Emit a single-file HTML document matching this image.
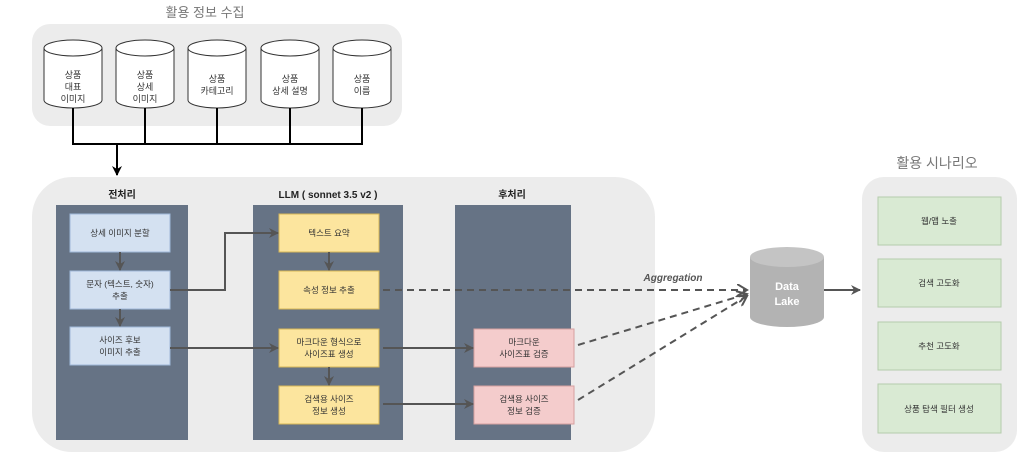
<!DOCTYPE html>
<html><head><meta charset="utf-8"><style>
body{margin:0;width:1024px;height:461px;background:#fff;overflow:hidden;font-family:"Liberation Sans","Noto Sans CJK KR",sans-serif}
</style></head><body>
<svg width="1024" height="461" viewBox="0 0 1024 461" xmlns="http://www.w3.org/2000/svg" font-family="Liberation Sans, Noto Sans CJK KR, sans-serif">
<defs>
<marker id="a" markerWidth="10" markerHeight="10" refX="9" refY="5" orient="auto" markerUnits="userSpaceOnUse"><path d="M0,0 L10,5 L0,10 L3,5 z" fill="#555"/></marker>
<marker id="b" markerWidth="10" markerHeight="10" refX="9" refY="5" orient="auto" markerUnits="userSpaceOnUse"><path d="M0,0 L10,5 L0,10 L3,5 z" fill="#000"/></marker>
<marker id="c" markerWidth="12" markerHeight="12" refX="10" refY="6" orient="auto" markerUnits="userSpaceOnUse"><path d="M0,0 L10,6 L0,12" fill="none" stroke="#555" stroke-width="2"/></marker>
</defs>
<text x="205" y="17" font-size="13" fill="#777" text-anchor="middle">활용 정보 수집</text>
<rect x="32" y="24" width="370" height="102" rx="18" fill="#ececec"/>
<g fill="#fff" stroke="#333" stroke-width="1">
<path d="M44,48 v52 a29,8 0 0 0 58,0 v-52"/><ellipse cx="73" cy="48" rx="29" ry="8"/>
<path d="M116,48 v52 a29,8 0 0 0 58,0 v-52"/><ellipse cx="145" cy="48" rx="29" ry="8"/>
<path d="M188,48 v52 a29,8 0 0 0 58,0 v-52"/><ellipse cx="217" cy="48" rx="29" ry="8"/>
<path d="M261,48 v52 a29,8 0 0 0 58,0 v-52"/><ellipse cx="290" cy="48" rx="29" ry="8"/>
<path d="M333,48 v52 a29,8 0 0 0 58,0 v-52"/><ellipse cx="362" cy="48" rx="29" ry="8"/>
</g>
<g font-size="9" fill="#333" text-anchor="middle">
<text x="73" y="78">상품</text><text x="73" y="90">대표</text><text x="73" y="102">이미지</text>
<text x="145" y="78">상품</text><text x="145" y="90">상세</text><text x="145" y="102">이미지</text>
<text x="217" y="82">상품</text><text x="217" y="94">카테고리</text>
<text x="290" y="82">상품</text><text x="290" y="94">상세 설명</text>
<text x="362" y="82">상품</text><text x="362" y="94">이름</text>
</g>
<g stroke="#000" stroke-width="2" fill="none">
<path d="M73,108 V144 M145,108 V144 M217,108 V144 M290,108 V144 M362,108 V144 M72,144 H363"/>
<path d="M117,144 V175" marker-end="url(#b)"/>
</g>
<rect x="32" y="177" width="623" height="275" rx="40" fill="#ececec"/>
<text x="937" y="168" font-size="14" fill="#777" text-anchor="middle">활용 시나리오</text>
<rect x="862" y="177" width="155" height="275" rx="22" fill="#ececec"/>
<g font-size="10" font-weight="bold" fill="#222" text-anchor="middle">
<text x="122" y="198">전처리</text><text x="328" y="198">LLM ( sonnet 3.5 v2 )</text><text x="512" y="198">후처리</text>
</g>
<rect x="56" y="205" width="132" height="235" fill="#667385"/>
<rect x="253" y="205" width="150" height="235" fill="#667385"/>
<rect x="455" y="205" width="116" height="235" fill="#667385"/>
<g fill="#d4e1f1" stroke="#9fb8d9"><rect x="70" y="214" width="100" height="38"/><rect x="70" y="271" width="100" height="38"/><rect x="70" y="327" width="100" height="38"/></g>
<g fill="#fce59e" stroke="#d6b656"><rect x="279" y="214" width="100" height="38"/><rect x="279" y="271" width="100" height="38"/><rect x="279" y="329" width="100" height="38"/><rect x="279" y="386" width="100" height="38"/></g>
<g fill="#f4cccc" stroke="#d6a0a0"><rect x="474" y="329" width="100" height="38"/><rect x="474" y="386" width="100" height="38"/></g>
<g fill="#d9ead3" stroke="#b5ccad"><rect x="878" y="197" width="123" height="48"/><rect x="878" y="259" width="123" height="48"/><rect x="878" y="322" width="123" height="48"/><rect x="878" y="384" width="123" height="49"/></g>
<g font-size="8.5" fill="#333" text-anchor="middle">
<text x="120" y="236">상세 이미지 분할</text>
<text x="120" y="287">문자 (텍스트, 숫자)</text><text x="120" y="299">추출</text>
<text x="120" y="343">사이즈 후보</text><text x="120" y="355">이미지 추출</text>
<text x="329" y="236">텍스트 요약</text>
<text x="329" y="293">속성 정보 추출</text>
<text x="329" y="345">마크다운 형식으로</text><text x="329" y="357">사이즈표 생성</text>
<text x="329" y="402">검색용 사이즈</text><text x="329" y="414">정보 생성</text>
<text x="524" y="345">마크다운</text><text x="524" y="357">사이즈표 검증</text>
<text x="524" y="402">검색용  사이즈</text><text x="524" y="414">정보 검증</text>
<text x="939" y="224">웹/앱 노출</text>
<text x="939" y="286">검색 고도화</text>
<text x="939" y="349">추천 고도화</text>
<text x="939" y="412">상품 탐색 필터 생성</text>
</g>
<g stroke="#555" stroke-width="2" fill="none">
<path d="M120,252 V270" marker-end="url(#a)"/>
<path d="M120,309 V326" marker-end="url(#a)"/>
<path d="M329,252 V270" marker-end="url(#a)"/>
<path d="M329,367 V385" marker-end="url(#a)"/>
<path d="M170,290 H225 V233 H278" marker-end="url(#a)"/>
<path d="M170,348 H278" marker-end="url(#a)"/>
<path d="M383,348 H473" marker-end="url(#a)"/>
<path d="M383,404 H473" marker-end="url(#a)"/>
<path d="M824,290 H860" marker-end="url(#a)"/>
<g stroke-dasharray="7,5">
<path d="M383,290 H747" marker-end="url(#c)"/>
<path d="M578,345 L747,294" marker-end="url(#c)"/>
<path d="M578,400 L747,296" marker-end="url(#c)"/>
</g>
</g>
<text x="673" y="281" font-size="10" font-style="italic" font-weight="bold" fill="#555" text-anchor="middle">Aggregation</text>
<path d="M750,257 v60 a37,10 0 0 0 74,0 v-60" fill="#b3b3b3"/>
<ellipse cx="787" cy="257" rx="37" ry="10" fill="#c4c4c4"/>
<text x="787" y="290" font-size="11" font-weight="bold" fill="#fff" text-anchor="middle">Data</text>
<text x="787" y="305" font-size="11" font-weight="bold" fill="#fff" text-anchor="middle">Lake</text>
</svg>
</body></html>
